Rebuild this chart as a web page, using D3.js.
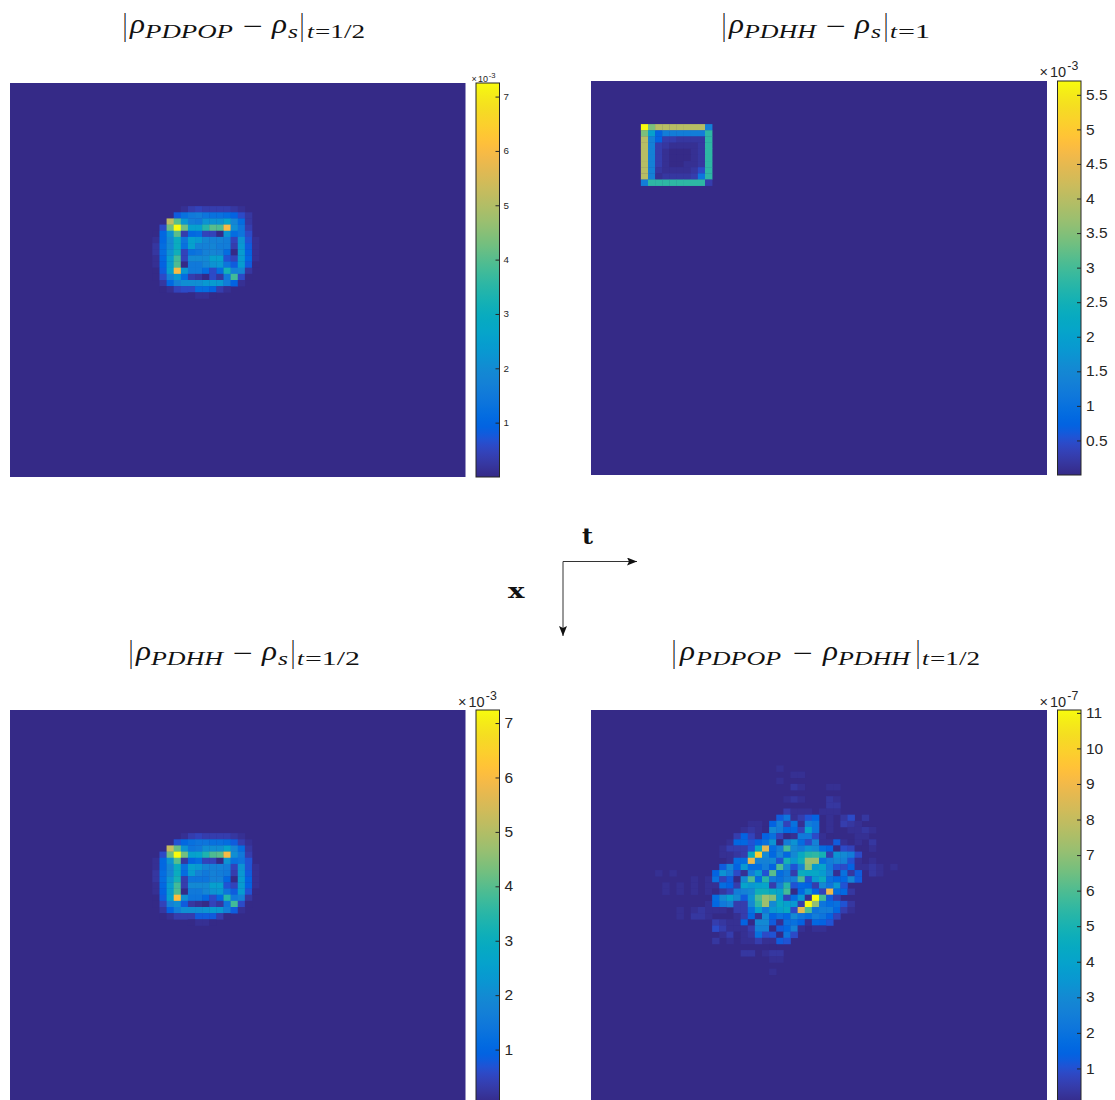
<!DOCTYPE html>
<html><head><meta charset="utf-8">
<script src="https://cdn.jsdelivr.net/npm/d3@7"></script>
<style>html,body{margin:0;padding:0;background:#fff;overflow:hidden}svg{display:block}</style>
</head><body><svg id="c" width="1115" height="1100"></svg>
<script>
// Sparse rows: [row, firstColumn, values...], everything else is zero. Units are those of each colour bar.
const panelARows = [
[20,24,.2,.4,.5,.4,.35,.35,.35,.3,.2],
[21,23,.8,1.3,1.5,1.6,1.4,1.3,1.3,1.2,1.0,.6,.25],
[22,22,5.2,4.0,2.3,1.6,1.5,2.2,2.2,2.2,2.7,1.9,1.2,.3],
[23,21,.6,4.3,7.25,4.3,2.6,2.5,3.5,4,3.9,6,2.1,1.4,.4],
[24,20,.1,1.1,2.2,4,.4,1.1,1.2,.5,.5,.05,2.2,1.2,1.4,.6],
[25,20,.2,1.1,2.0,3.0,1.4,2.6,2.3,1.9,1.8,1.7,1.6,.5,2.2,.7,.12],
[26,20,.25,1.2,2.0,3.0,1.3,2.5,1.8,1.7,1.9,1.6,1.6,.4,2.3,.9,.15],
[27,20,.25,1.2,2.2,3.1,.5,1.3,1.4,1.7,1.9,1.7,1.2,.05,2.4,1.0,.15],
[28,20,.2,1.1,2.4,3.8,.5,2.0,2.0,2.0,2.5,2.5,.7,.5,2.4,1.1,.12],
[29,20,.15,1.0,2.4,3.9,.03,1.5,1.5,1.9,2.2,2.3,1.4,.9,2.4,.8,.1],
[30,20,.1,.9,2.6,6,2.3,1.5,1.5,1.2,.6,1.2,3.2,1.7,1.9,.3],
[31,20,.08,.6,1.8,2.3,1.2,.4,.3,.05,.6,.3,1.5,3.8,.6,.1],
[32,21,.3,1.1,1.7,2.1,2.1,2.1,2.3,2.4,2.3,1.6,1.0,.15],
[33,21,.1,.2,.5,.6,.6,1.2,1.2,1.0,.4,.15],
[34,25,.08,.12,.12,.08]
];
const panelBRows = [
[7,7,5.7,3.4,4,4,4,4,4,4,4,1.4],
[8,7,3.4,2.0,.75,1.25,1.25,1.25,1.25,1.25,1.25,2.8],
[9,7,4,1.4,.8,.35,.3,.25,.25,.2,.2,2.8],
[10,7,4,1.4,.35,.25,.1,.15,.15,.15,.2,2.8],
[11,7,4,1.4,.3,.1,.05,.05,.05,.1,.25,2.8],
[12,7,4,1.4,.3,.15,.05,.05,.05,.1,.25,2.8],
[13,7,4,1.4,.3,.15,.05,.05,.1,.1,.25,2.8],
[14,7,4,1.4,.2,.15,.15,.15,.15,.2,.45,2.8],
[15,7,4,1.4,.1,.2,.2,.25,.25,.35,1.1,2.8],
[16,7,1.3,2.8,2.8,2.8,2.8,2.8,2.8,2.8,2.8,.35]
];
const panelCRows = [
[20,24,.2,.4,.5,.4,.4,.4,.4,.3,.2],
[21,23,.7,1.1,1.3,1.4,1.4,1.3,1.3,1.2,.8,.4,.2],
[22,22,5.3,4.1,2.2,1.4,1.5,2.1,2.1,2.1,2.7,1.9,1.2,.3],
[23,21,.6,4.2,7.24,4.2,2.6,2.7,3.3,3.9,4.0,5.9,2.1,1.5,.4],
[24,20,.15,1.1,2.2,4,.3,1.0,1.2,.5,.5,.05,2.2,1.3,1.4,.7],
[25,20,.2,1.1,1.9,3.0,1.3,2.6,2.3,1.9,1.8,1.7,1.6,.5,2.2,.7,.12],
[26,20,.25,1.2,1.9,3.0,1.2,2.4,1.7,1.5,1.8,1.6,1.5,.4,2.3,.9,.15],
[27,20,.25,1.2,2.2,3.2,.4,1.4,1.4,1.4,1.7,1.7,1.1,.05,2.4,1.0,.15],
[28,20,.2,1.1,2.4,3.8,.4,2.0,2.0,2.0,2.5,2.5,.7,.5,2.4,1.0,.12],
[29,20,.15,1.0,2.4,3.9,.03,1.5,1.5,1.9,2.2,2.3,1.4,.9,2.4,.7,.1],
[30,20,.1,.9,2.6,6,2.1,1.4,1.4,1.1,.6,1.1,3.4,1.5,1.8,.3],
[31,20,.08,.5,1.8,2.1,.9,.3,.2,.03,.5,.3,1.4,3.8,.6,.1],
[32,21,.3,1.0,1.6,2.1,2.1,2.1,2.2,2.4,2.3,1.6,.8,.15],
[33,21,.1,.2,.4,.4,.4,.9,.9,.8,.35,.1],
[34,25,.08,.12,.12,.08]
];
const panelDRows = [
[9,26,.3],[10,28,.25,.25],[11,26,.3],
[12,28,.5,.3,0,0,0,.3,.3],
[14,27,.2,.5,.3,0,0,0,.4,.3],
[15,33,.5,.4],
[16,27,.6,.2,.2,.2,0,.2,.3,.2],
[17,26,1.25,2.1,.2,.6,1.1,1.5,0,.2,0,.45,.9,0,.45],
[18,22,.2,.2,0,1.5,2.6,.8,2,.2,2.5,2.1,0,.2,0,.6,.45,.2],
[19,21,.2,.45,.2,.15,3.1,2.5,1.65,1.65,.8,4.1,2.1,0,.2,0,0,.2,.2,.45,.2],
[20,20,.6,1.5,.8,.3,1.5,2,.8,.1,.3,2.3,2.3,.9,.2,.1,0,0,0,.2,.2],
[21,19,.3,1.65,1.65,1.1,1.5,2,3.3,.1,2.5,3.4,1.8,.9,2.6,.3,.3,1.25,.2,.1,.3,0,.45],
[22,18,.2,.6,.6,.6,1.1,4.2,8.5,1.8,2.5,5.8,3,2.5,3.4,3.1,1.8,1.5,.1,.9,.8,.1,.1,.3],
[23,18,.2,.3,.45,.6,4.6,9.8,3.1,1.65,2.8,1.65,3.1,4.4,5.3,5.5,4.9,.6,3.4,3,2.5,.9],
[24,19,.2,1.8,1.8,8.8,2.6,2.6,3,1.1,5,3.6,4.7,7.1,7.1,2,2.5,2.8,2.6,1.1,.2,0,.3],
[25,18,1.25,2.8,1.5,3.6,1.8,1.8,2.5,1.5,5.9,3,1.1,2.8,6.8,3.7,4.1,2.3,1.1,.9,1.5,.2,.2,.4,.3,0,.3],
[26,9,.3,0,.3,0,0,0,0,0,1.5,3.3,2.5,.9,.2,2.5,3.7,1.1,6.1,1.8,2.3,.6,4.6,4.2,4.2,3.7,2.6,.2,2,.45,1.25,0,.45,.3],
[27,14,.2,0,.2,2,.8,1.25,.1,3.1,5.9,1.8,5.3,2.3,2,2.5,2.6,5.9,1.1,3.7,4.6,2,1.65,1.65,2.8,1.25],
[28,10,.2,0,.3,0,.3,0,.2,.2,1.8,1.5,.6,4.1,3.6,3.9,4.1,.6,2.6,5.3,1.1,1.65,1.5,.6,3,2.1,3.6,1.1],
[29,10,.2,0,.2,0,.2,0,.3,.1,.45,.8,2.5,2.6,3.1,4.7,4.7,4.4,4.1,5.8,.1,1.65,3.4,1.5,.8,8.9,1.8,1.65,.45],
[30,17,1.8,3.1,3.9,3,1.25,3.4,5.9,7.2,6.9,3.9,.8,1.8,3.6,.2,11.08,5.8,1.25,.6],
[31,16,.2,1.65,2.3,2.6,.6,.6,3,5.5,7.2,3.1,4.4,3.9,3.6,.6,11,7,2.1,1.8,2,1.1,.45],
[32,12,.3,0,.3,.45,.3,.2,.2,0,.6,.6,2,3.9,2.3,3.6,3.9,4.4,.9,8.6,5.9,2.1,2.5,2.5,1.65,.6,.2],
[33,12,.3,0,.45,.45,.2,0,0,0,.2,.6,1.65,.2,3,1.5,2,1.65,3.1,2.1,1.8,2.5,2.1,1.5,.8],
[34,17,.6,.45,.3,.3,1.5,.1,3.1,3.1,1.25,.2,2,2,1.5,.2,1.65,1.5,1.1],
[35,17,.9,.6,.2,.2,.3,.6,2.6,2.6,.1,1.25,1.65,2.6,.3,0,.3,.2],
[36,18,.3,.6,.1,.2,.45,2,.9,1.1,.1,2.1,.9],
[37,17,.45,0,.2,0,.3,.2,.6,.2,.2,1.25,1.1],
[38,25,.1],
[39,21,.4,.4,0,.2,.35,.35],
[40,25,.2,.2],
[42,25,.2]
];
const ticksAC = [1,2,3,4,5,6,7];
const ticksB = [0.5,1,1.5,2,2.5,3,3.5,4,4.5,5,5.5];
const ticksD = [1,2,3,4,5,6,7,8,9,10,11];
const parula = [
[.2081,.1663,.5292],[.2116,.1898,.5777],[.2123,.2138,.6270],[.2081,.2386,.6771],[.1959,.2645,.7279],[.1707,.2919,.7792],[.1253,.3242,.8303],[.0591,.3598,.8683],
[.0117,.3875,.8820],[.0060,.4086,.8828],[.0165,.4266,.8786],[.0329,.4430,.8720],[.0498,.4586,.8641],[.0629,.4737,.8554],[.0723,.4887,.8467],[.0779,.5040,.8384],
[.0793,.5200,.8312],[.0749,.5375,.8263],[.0641,.5570,.8240],[.0488,.5772,.8228],[.0343,.5966,.8199],[.0265,.6137,.8135],[.0239,.6287,.8038],[.0231,.6418,.7913],
[.0228,.6535,.7768],[.0267,.6642,.7607],[.0384,.6743,.7436],[.0590,.6838,.7254],[.0843,.6928,.7062],[.1133,.7015,.6859],[.1453,.7098,.6646],[.1801,.7177,.6424],
[.2178,.7250,.6193],[.2586,.7317,.5954],[.3022,.7376,.5712],[.3482,.7424,.5473],[.3953,.7459,.5244],[.4420,.7481,.5033],[.4871,.7491,.4840],[.5300,.7491,.4661],
[.5709,.7485,.4494],[.6099,.7473,.4337],[.6473,.7456,.4188],[.6834,.7435,.4044],[.7184,.7411,.3905],[.7525,.7384,.3768],[.7858,.7356,.3633],[.8185,.7327,.3498],
[.8507,.7299,.3360],[.8824,.7274,.3217],[.9139,.7258,.3063],[.9450,.7261,.2886],[.9739,.7314,.2666],[.9938,.7455,.2403],[.9990,.7653,.2164],[.9955,.7861,.1967],
[.9880,.8066,.1794],[.9789,.8271,.1633],[.9697,.8481,.1475],[.9626,.8705,.1309],[.9589,.8949,.1132],[.9598,.9218,.0948],[.9661,.9514,.0755],[.9763,.9831,.0538]
].map(c => d3.rgb(c[0]*255,c[1]*255,c[2]*255).formatHex());

const svg = d3.select('#c');
const N = 64, sans = '"Liberation Sans",Arial,sans-serif', serif = '"Liberation Serif",serif', ink = '#262626';
const defs = svg.append('defs');
const grad = defs.append('linearGradient').attr('id','parula').attr('x1',0).attr('y1',1).attr('x2',0).attr('y2',0);
parula.forEach((c,i)=>grad.append('stop').attr('offset',i/63).attr('stop-color',c));

function panel(o){
  const g = svg.append('g');
  const x = d3.scaleLinear().domain([0,N]).range([o.x0,o.x1]);
  const y = d3.scaleLinear().domain([0,N]).range([o.y0,o.y1]);
  const color = d3.scaleQuantize().domain([0,o.max]).range(parula);
  g.append('rect').attr('x',o.x0).attr('y',o.y0).attr('width',o.x1-o.x0).attr('height',o.y1-o.y0).attr('fill',color(0));
  const cells = o.rows.flatMap(r => r.slice(2).map((v,i)=>({r:r[0],c:r[1]+i,v}))).filter(d=>d.v>0);
  g.selectAll('rect.cell').data(cells).join('rect').attr('class','cell')
    .attr('x',d=>x(d.c)).attr('y',d=>y(d.r))
    .attr('width',d=>x(d.c+1)-x(d.c)+.3).attr('height',d=>y(d.r+1)-y(d.r)+.3)
    .attr('fill',d=>color(Math.min(d.v,o.max)));
  // colour bar
  const cb = d3.scaleLinear().domain([0,o.max]).range([o.y1,o.y0]);
  g.append('rect').attr('x',o.bx0).attr('y',o.y0).attr('width',o.bx1-o.bx0).attr('height',o.y1-o.y0)
    .attr('fill','url(#parula)').attr('stroke',ink).attr('stroke-width',1);
  const axis = d3.axisRight(cb).tickValues(o.ticks).tickFormat(d=>String(d)).tickSize(0);
  const ax = g.append('g').attr('transform',`translate(${o.bx1},0)`).call(axis);
  ax.select('.domain').remove();
  ax.selectAll('.tick text').attr('x',o.lx-o.bx1).attr('dy','0.3em').attr('font-family',sans).attr('font-size',o.fs).attr('fill',ink);
  ax.selectAll('.tick').append('line').attr('x1',-o.tl).attr('x2',0).attr('stroke',ink).attr('stroke-width',1);
  // multiplier
  const m = g.append('g').attr('font-family',sans).attr('fill',ink);
  m.append('text').attr('x',o.mx).attr('y',o.my).attr('font-size',o.mfs).text('\u00d7');
  m.append('text').attr('x',o.mx+o.mfs*.72).attr('y',o.my).attr('font-size',o.mfs).text('10');
  m.append('text').attr('x',o.mx+o.mfs*1.92).attr('y',o.my-o.mfs*.45).attr('font-size',o.mfs*.85).text(o.exp);
}

panel({rows:panelARows,x0:10,x1:465.5,y0:83,y1:477,max:7.25,bx0:476,bx1:499.5,ticks:ticksAC,lx:503.5,fs:9.8,mfs:9,tl:4,mx:471.5,my:82,exp:'-3'});
panel({rows:panelBRows,x0:591,x1:1047,y0:81,y1:475,max:5.7,bx0:1057.5,bx1:1081,ticks:ticksB,lx:1086,fs:15.5,mfs:14.5,tl:4,mx:1039.5,my:77,exp:'-3'});
panel({rows:panelCRows,x0:10,x1:465.5,y0:710,y1:1104,max:7.24,bx0:476,bx1:499.5,ticks:ticksAC,lx:504.5,fs:15.5,mfs:14.5,tl:4,mx:458,my:707,exp:'-3'});
panel({rows:panelDRows,x0:591,x1:1047,y0:710,y1:1104,max:11.08,bx0:1057.5,bx1:1081,ticks:ticksD,lx:1086,fs:15.5,mfs:14.5,tl:4,mx:1039.5,my:707,exp:'-7'});

// titles: [text, x, width, baseline, size, italic]
function title(parts){
  const t = svg.append('g').attr('font-family',serif).attr('fill','#111');
  parts.forEach(p=>{
    t.append('text').attr('x',p[1]).attr('y',p[3]).attr('font-size',p[4])
      .attr('font-style',p[5]?'italic':'normal')
      .attr('textLength',p[2]).attr('lengthAdjust','spacingAndGlyphs').text(p[0]);
  });
}
title([['|',123,4,35,31,0],['\u03c1',130,15,33,27,1],['PDPOP',145,88,38,19,1],['\u2212',243,20,35,26,0],['\u03c1',272,15,33,27,1],['s',288,10,38,19,1],['|',300,4,35,31,0],['t',307,7,38,19,1],['=1/2',315,50,38,19,0]]);
title([['|',722,4,35,31,0],['\u03c1',729,15,33,27,1],['PDHH',744,72,38,19,1],['\u2212',826,20,35,26,0],['\u03c1',855,15,33,27,1],['s',871,10,38,19,1],['|',884,4,35,31,0],['t',890,7,38,19,1],['=1',898,32,38,19,0]]);
title([['|',129,4,662,31,0],['\u03c1',136,15,660,27,1],['PDHH',151,72,665,19,1],['\u2212',233,20,662,26,0],['\u03c1',262,15,660,27,1],['s',278,10,665,19,1],['|',291,4,662,31,0],['t',297,7,665,19,1],['=1/2',305,55,665,19,0]]);
title([['|',672,4,662,31,0],['\u03c1',680,15,660,27,1],['PDPOP',696,85,665,19,1],['\u2212',793,20,662,26,0],['\u03c1',823,15,660,27,1],['PDHH',838,72,665,19,1],['|',916,4,662,31,0],['t',922,7,665,19,1],['=1/2',930,50,665,19,0]]);

// axes glyph
defs.append('marker').attr('id','ah').attr('viewBox','0 0 10 8').attr('refX',10).attr('refY',4)
  .attr('markerUnits','userSpaceOnUse').attr('markerWidth',10).attr('markerHeight',8).attr('orient','auto')
  .append('path').attr('d','M0,0L10,4L0,8L2,4Z').attr('fill','#111');
const lineGen = d3.line();
svg.append('path').attr('d',lineGen([[563,561.5],[637,561.5]])).attr('stroke','#333').attr('fill','none').attr('marker-end','url(#ah)');
svg.append('path').attr('d',lineGen([[563,561.5],[563,636]])).attr('stroke','#333').attr('fill','none').attr('marker-end','url(#ah)');
svg.append('text').attr('x',582).attr('y',544).attr('font-family','"DejaVu Serif",serif').attr('font-weight','bold').attr('font-size',23)
  .attr('textLength',11).attr('lengthAdjust','spacingAndGlyphs').attr('fill','#111').text('t');
svg.append('text').attr('x',508).attr('y',598).attr('font-family','"DejaVu Serif",serif').attr('font-weight','bold').attr('font-size',20)
  .attr('textLength',16.5).attr('lengthAdjust','spacingAndGlyphs').attr('fill','#111').text('x');
</script></body></html>
